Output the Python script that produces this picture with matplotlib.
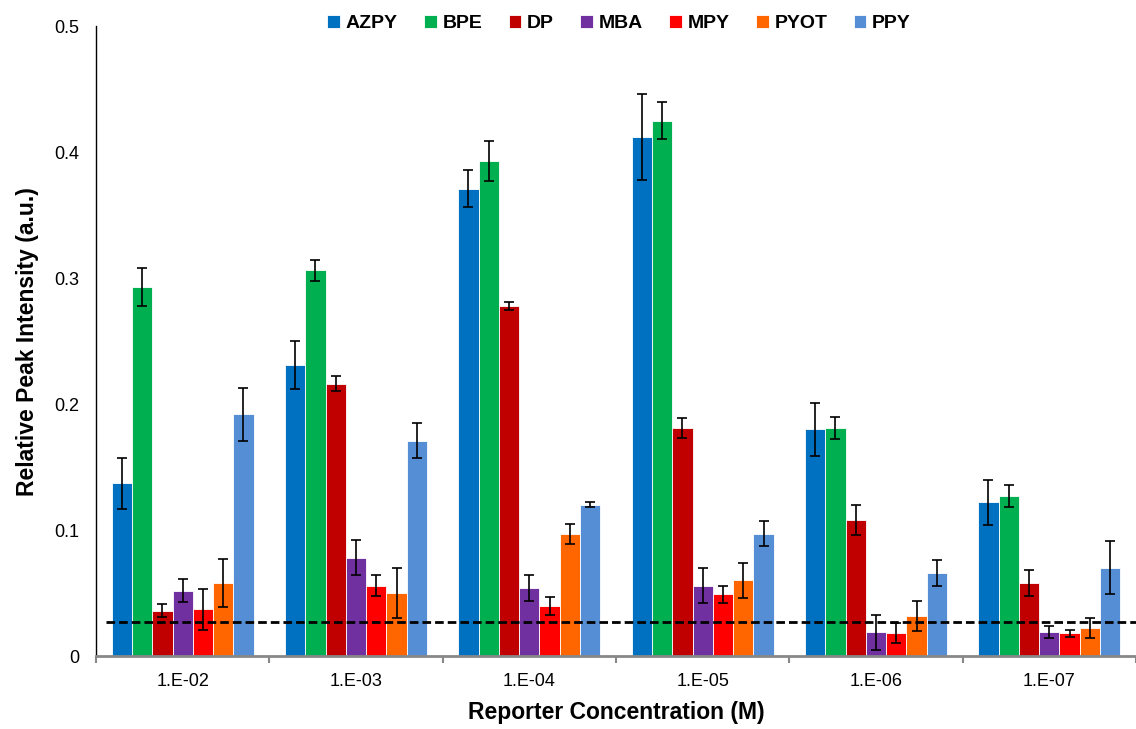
import matplotlib.pyplot as plt
import numpy as np

plt.rcParams['font.family'] = ['Liberation Sans', 'DejaVu Sans']

concentrations = ["1.E-02", "1.E-03", "1.E-04", "1.E-05", "1.E-06", "1.E-07"]
reporters = ["AZPY", "BPE", "DP", "MBA", "MPY", "PYOT", "PPY"]
colors = ["#0070C0", "#00B050", "#C00000", "#7030A0", "#FF0000", "#FF6600", "#558ED5"]

# mean relative peak intensity per reporter, one value per concentration
azpy = [0.137, 0.231, 0.371, 0.412, 0.180, 0.122]
bpe = [0.293, 0.306, 0.393, 0.425, 0.181, 0.127]
dp = [0.036, 0.216, 0.278, 0.181, 0.108, 0.058]
mba = [0.052, 0.078, 0.054, 0.056, 0.019, 0.019]
mpy = [0.037, 0.056, 0.040, 0.049, 0.018, 0.018]
pyot = [0.058, 0.050, 0.097, 0.060, 0.032, 0.022]
ppy = [0.192, 0.171, 0.120, 0.097, 0.066, 0.070]

# error bar half-widths
azpy_err = [0.020, 0.019, 0.015, 0.034, 0.021, 0.018]
bpe_err = [0.015, 0.008, 0.016, 0.015, 0.009, 0.009]
dp_err = [0.005, 0.006, 0.003, 0.008, 0.012, 0.010]
mba_err = [0.009, 0.014, 0.010, 0.014, 0.014, 0.005]
mpy_err = [0.016, 0.008, 0.007, 0.007, 0.008, 0.003]
pyot_err = [0.019, 0.020, 0.008, 0.014, 0.012, 0.008]
ppy_err = [0.021, 0.014, 0.002, 0.010, 0.010, 0.021]

threshold = 0.027

values = [azpy, bpe, dp, mba, mpy, pyot, ppy]
errors = [azpy_err, bpe_err, dp_err, mba_err, mpy_err, pyot_err, ppy_err]

fig = plt.figure(figsize=(11.36, 7.29), dpi=100)
ax = fig.add_axes([0.0845, 0.1, 0.9155, 0.8643])

x = np.arange(len(concentrations))
width = 0.117
for i, name in enumerate(reporters):
    offset = (i - 3) * width
    ax.bar(x + offset, values[i], width, color=colors[i], edgecolor="white",
           linewidth=0.6, label=name, yerr=errors[i],
           error_kw=dict(ecolor="black", elinewidth=1.2, capsize=3.5, capthick=1.2))

ax.axhline(threshold, xmin=0.01, xmax=1, color="black", linestyle=(0, (3.1, 1.45)), linewidth=2)

ax.set_xlim(-0.5, len(concentrations) - 0.5)
ax.set_ylim(0, 0.5)
ax.set_yticks([0, 0.1, 0.2, 0.3, 0.4, 0.5])
ax.set_yticklabels(["0", "0.1", "0.2", "0.3", "0.4", "0.5"])
ax.set_xticks(x)
ax.set_xticklabels(concentrations)
ax.set_xticks(np.arange(len(concentrations) + 1) - 0.5, minor=True)
ax.tick_params(axis="x", which="major", length=0, labelsize=13, pad=12)
ax.tick_params(axis="x", which="minor", length=5, width=1.5, color="#888888", direction="out")
ax.tick_params(axis="y", length=0, labelsize=13, pad=12)

ax.spines["top"].set_visible(False)
ax.spines["right"].set_visible(False)
ax.spines["left"].set_color("black")
ax.spines["left"].set_linewidth(1)
ax.spines["bottom"].set_color("#888888")
ax.spines["bottom"].set_linewidth(2)

ax.set_xlabel("Reporter Concentration (M)", fontsize=16.5, fontweight="bold", labelpad=8)
ax.set_ylabel("Relative Peak Intensity (a.u.)", fontsize=16.5, fontweight="bold", labelpad=11)

fig.legend(loc="center", bbox_to_anchor=(0.545, 0.968), ncol=7, frameon=False,
           prop={"weight": "bold", "size": 14}, handlelength=0.65, handleheight=0.65,
           handletextpad=0.3, columnspacing=1.35)

fig.savefig("out.png", dpi=100)
